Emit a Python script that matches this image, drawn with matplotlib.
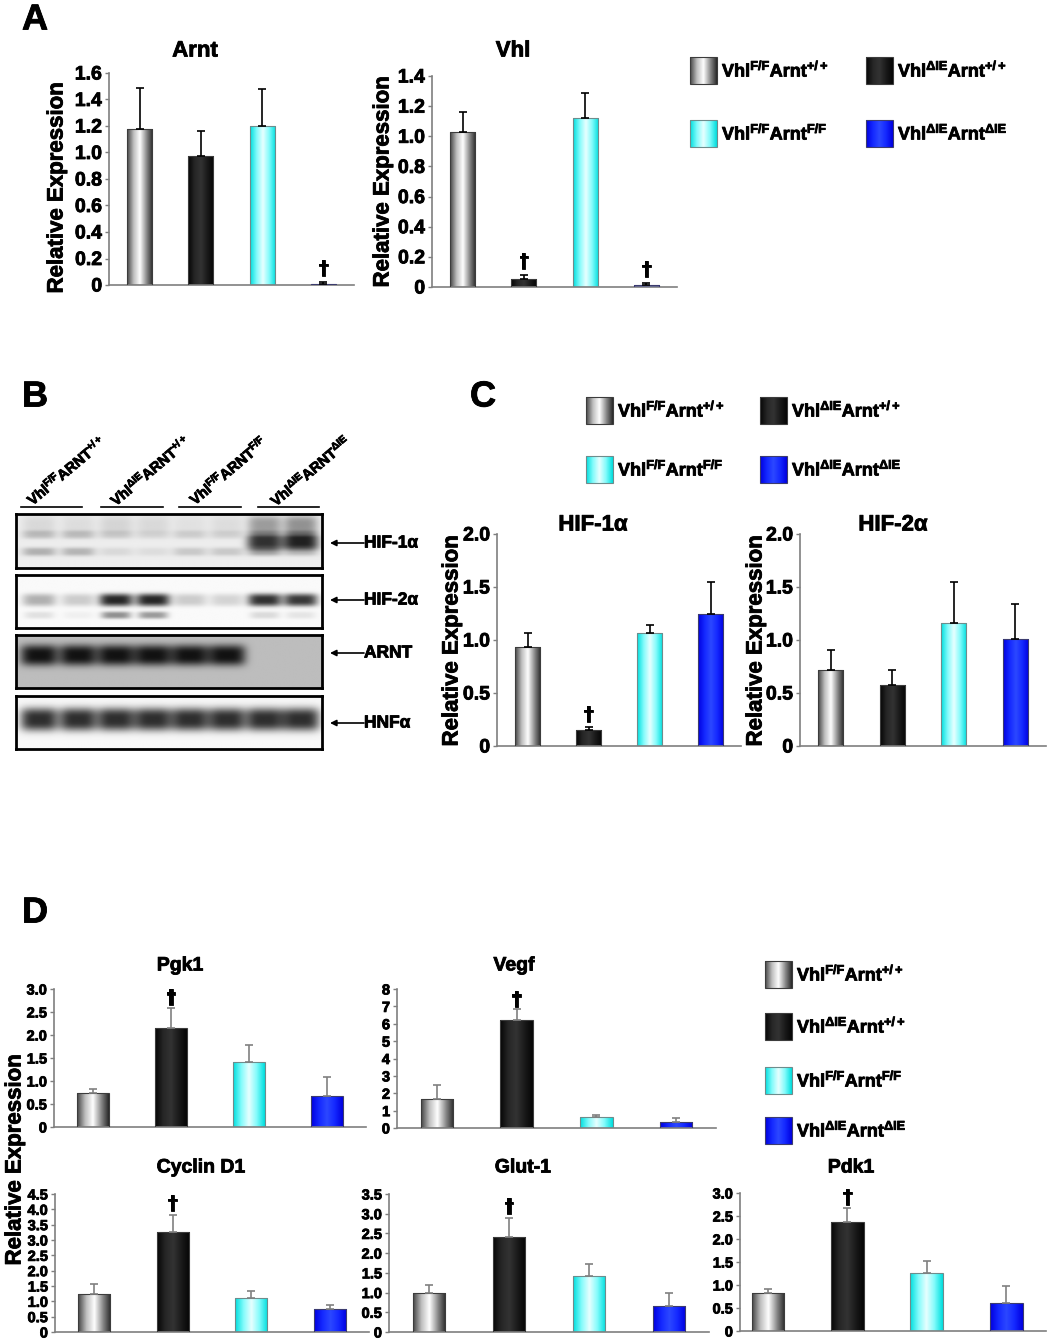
import numpy as np
import matplotlib
matplotlib.use("Agg")
import matplotlib.pyplot as plt
import matplotlib.patheffects as pe
from matplotlib.colors import LinearSegmentedColormap
from matplotlib.patches import Rectangle
from matplotlib.ticker import FuncFormatter
from matplotlib.text import Text

plt.rcParams['font.family'] = ['Liberation Sans', 'DejaVu Sans']
plt.rcParams['font.weight'] = 'bold'
plt.rcParams['mathtext.fontset'] = 'custom'
plt.rcParams['mathtext.rm'] = 'Liberation Sans:bold'
plt.rcParams['mathtext.it'] = 'Liberation Sans:bold'
plt.rcParams['mathtext.bf'] = 'Liberation Sans:bold'

# ---------- data ----------
group_labels = ['Vhl$^{F/F}$Arnt$^{+/+}$', 'Vhl$^{ΔIE}$Arnt$^{+/+}$',
                'Vhl$^{F/F}$Arnt$^{F/F}$', 'Vhl$^{ΔIE}$Arnt$^{ΔIE}$']
lane_labels = ['Vhl$^{F/F}$ARNT$^{+/+}$', 'Vhl$^{ΔIE}$ARNT$^{+/+}$',
               'Vhl$^{F/F}$ARNT$^{F/F}$', 'Vhl$^{ΔIE}$ARNT$^{ΔIE}$']

# panel A
arnt_mean = [1.18, 0.97, 1.20, 0.01]
arnt_sem = [0.31, 0.19, 0.28, 0.01]
arnt_sig = [False, False, False, True]
vhl_mean = [1.03, 0.05, 1.12, 0.01]
vhl_sem = [0.13, 0.03, 0.17, 0.015]
vhl_sig = [False, True, False, True]

# panel C
hif1a_mean = [0.93, 0.15, 1.07, 1.25]
hif1a_sem = [0.14, 0.03, 0.07, 0.30]
hif1a_sig = [False, True, False, False]
hif2a_mean = [0.72, 0.58, 1.16, 1.01]
hif2a_sem = [0.19, 0.14, 0.39, 0.33]
hif2a_sig = [False, False, False, False]

# panel D
pgk1_mean = [0.73, 2.15, 1.41, 0.67]
pgk1_sem = [0.10, 0.43, 0.38, 0.41]
vegf_mean = [1.65, 6.20, 0.62, 0.35]
vegf_sem = [0.80, 0.65, 0.13, 0.20]
cyclin_mean = [1.25, 3.25, 1.12, 0.75]
cyclin_sem = [0.32, 0.57, 0.21, 0.13]
glut1_mean = [0.98, 2.40, 1.42, 0.67]
glut1_sem = [0.20, 0.50, 0.30, 0.31]
pdk1_mean = [0.82, 2.37, 1.27, 0.60]
pdk1_sem = [0.10, 0.30, 0.25, 0.38]
d_sig = [False, True, False, False]

# panel B band intensities (8 lanes, 2 per genotype)
blot_names = ['HIF-1α', 'HIF-2α', 'ARNT', 'HNFα']
hif1a_smear = [0.10, 0.08, 0.12, 0.10, 0.06, 0.08, 0.40, 0.45]
hif1a_upper = [0.22, 0.22, 0.15, 0.10, 0.14, 0.12, 0.30, 0.35]
hif1a_main = [0.00, 0.00, 0.00, 0.00, 0.00, 0.00, 0.92, 1.00]
hif1a_lower = [0.30, 0.28, 0.10, 0.08, 0.18, 0.18, 0.35, 0.25]
hif2a_main = [0.35, 0.22, 1.00, 1.00, 0.22, 0.18, 0.95, 0.92]
hif2a_lower = [0.12, 0.05, 0.50, 0.45, 0.00, 0.00, 0.15, 0.10]
arnt_band = [1, 1, 1, 1, 1, 1, 0, 0]
hnf_band = [1, 1, 1, 1, 1, 1, 1, 1]

# ---------- layout helpers ----------
W, H = 1050, 1343
fig = plt.figure(figsize=(W / 100, H / 100), dpi=100)


def px_rect(x0, y0, x1, y1):
    return [x0 / W, 1 - y1 / H, (x1 - x0) / W, (y1 - y0) / H]


ov = fig.add_axes([0, 0, 1, 1], zorder=10)
ov.patch.set_alpha(0)
ov.axis('off')

bar_cmaps = [
    LinearSegmentedColormap.from_list('g', ['#454545', '#bdbdbd', '#ffffff', '#8f8f8f', '#2a2a2a']),
    LinearSegmentedColormap.from_list('k', ['#050505', '#262626', '#333333', '#1a1a1a', '#050505']),
    LinearSegmentedColormap.from_list('c', ['#00dede', '#80fbfb', '#e8ffff', '#80fbfb', '#00dede']),
    LinearSegmentedColormap.from_list('b', ['#0000e0', '#1428ff', '#2c48ff', '#1428ff', '#0000e0']),
]
grad = np.linspace(0, 1, 64).reshape(1, -1)
edge_cols = ['#3c3c3c', '#3c3c3c', '#6e8c8c', '#3c3c6e']


def bar_panel(rect, xlim, mean, sem, sig, ymax, step, tick_fs, err_col, dag_fs, dag_off, integer=False):
    ax = fig.add_axes(px_rect(*rect))
    x = np.arange(4)
    bars = ax.bar(x, mean, width=0.41, color='none', edgecolor=edge_cols, linewidth=0.8, zorder=3)
    for b, cm in zip(bars, bar_cmaps):
        im = ax.imshow(grad, cmap=cm, extent=[b.get_x(), b.get_x() + b.get_width(), 0, b.get_height()],
                       aspect='auto', interpolation='bilinear', zorder=2)
        im.set_clip_path(b)
    ax.errorbar(x, mean, yerr=[np.zeros(4), sem], fmt='none', ecolor=err_col,
                elinewidth=1.2, capsize=3, capthick=1.2, zorder=4)
    for xi, top, s in zip(x, np.add(mean, sem), sig):
        if s:
            ax.annotate('†', (xi, top), xytext=(0, dag_off), textcoords='offset points',
                        ha='center', va='bottom', fontsize=dag_fs, fontweight='bold',
                        family='DejaVu Sans', zorder=5)
    ax.set_xlim(*xlim)
    ax.set_ylim(0, ymax)
    ax.set_yticks(np.arange(0, ymax + step / 2, step))
    if integer:
        ax.yaxis.set_major_formatter(FuncFormatter(lambda v, p: '%d' % round(v)))
    else:
        ax.yaxis.set_major_formatter(FuncFormatter(lambda v, p: '0' if abs(v) < 1e-9 else '%.1f' % v))
    ax.tick_params(axis='y', length=3, width=1, color='#7f7f7f', labelsize=tick_fs, pad=2)
    ax.tick_params(axis='x', length=0, labelbottom=False)
    for s in ['top', 'right']:
        ax.spines[s].set_visible(False)
    for s in ['left', 'bottom']:
        ax.spines[s].set_color('#7f7f7f')
        ax.spines[s].set_linewidth(1.2)
    ax.patch.set_alpha(0)
    return ax


def legend_block(corners, fs, size=27):
    for (x0, y0), cm, ec, lab in zip(corners, bar_cmaps, edge_cols, group_labels):
        ov.imshow(grad, cmap=cm, extent=[x0, x0 + size, y0 + size, y0], aspect='auto',
                  interpolation='bilinear', zorder=2)
        ov.add_patch(Rectangle((x0, y0), size, size, fill=False, ec=ec, lw=0.8, zorder=3))
        ov.text(x0 + size + 5, y0 + size / 2, lab, fontsize=fs, ha='left', va='center')


# ---------- panel A ----------
ov.text(22, 20, 'A', fontsize=26, ha='left', va='center')
bar_panel((109, 73, 354, 285), (-0.5, 3.5), arnt_mean, arnt_sem, arnt_sig, 1.6, 0.2, 14, 'black', 14, 3)
bar_panel((432, 76, 677, 287), (-0.5, 3.5), vhl_mean, vhl_sem, vhl_sig, 1.4, 0.2, 14, 'black', 14, 3)
ov.text(195, 51, 'Arnt', fontsize=16, ha='center', va='center')
ov.text(513, 51, 'Vhl', fontsize=16, ha='center', va='center')
ov.text(57, 188, 'Relative Expression', fontsize=16, rotation=90, ha='center', va='center')
ov.text(383, 182, 'Relative Expression', fontsize=16, rotation=90, ha='center', va='center')
legend_block([(690, 57), (866, 57), (690, 120), (866, 120)], 13)

# ---------- panel B ----------
ov.text(22, 397, 'B', fontsize=26, ha='left', va='center')
lane_x = np.array([39, 78, 116, 153, 190, 227, 265, 301])
xx = np.linspace(16, 322, 400)
yy = np.linspace(0, 1, 90)
X, Y = np.meshgrid(xx, yy)


def strip_image(bg, bands, dark=0.13):
    d = np.zeros_like(X)
    for amps, yc, hw, hh in bands:
        for cx, a in zip(lane_x, amps):
            d += a * np.exp(-np.abs((X - cx) / hw) ** 4 - np.abs((Y - yc) / hh) ** 3)
    d = np.clip(d, 0, 1)
    return bg * (1 - d) + dark * d


blot_imgs = [
    strip_image(0.93, [(hif1a_smear, 0.80, 17, 0.18), (hif1a_upper, 0.62, 17, 0.08),
                       (hif1a_main, 0.47, 18, 0.13), (hif1a_lower, 0.30, 17, 0.08)]),
    strip_image(0.98, [(hif2a_main, 0.53, 17, 0.12), (hif2a_lower, 0.24, 15, 0.07)], dark=0.15),
    strip_image(0.74, [(arnt_band, 0.62, 19, 0.20)], dark=0.07),
    strip_image(0.97, [(hnf_band, 0.56, 19, 0.22)], dark=0.18),
]
blot_y = [(514, 568), (575, 628), (635, 688), (696, 749)]
arrow_y = [543, 600, 653, 723]
for img, (y0, y1), name, ay in zip(blot_imgs, blot_y, blot_names, arrow_y):
    bx = fig.add_axes(px_rect(16, y0, 322, y1))
    bx.imshow(img, cmap='gray', vmin=0, vmax=1, extent=[16, 322, 0, 1], origin='lower',
              aspect='auto', interpolation='bilinear')
    bx.set_xticks([])
    bx.set_yticks([])
    for s in bx.spines.values():
        s.set_linewidth(2)
        s.set_color('black')
    ov.annotate('', xy=(330, ay), xytext=(364, ay),
                arrowprops=dict(arrowstyle='-|>', color='black', lw=1.2, mutation_scale=9,
                                shrinkA=0, shrinkB=0))
    ov.text(364, ay, name, fontsize=12.5, ha='left', va='center')

underlines = [(21, 82), (101, 163), (179, 241), (258, 319)]
lane_label_xy = [(66, 470), (150, 470), (228, 470), (310, 470)]
for (u0, u1), (lx, ly), lab in zip(underlines, lane_label_xy, lane_labels):
    ov.plot([u0, u1], [507, 507], color='black', lw=1.2)
    ov.text(lx, ly, lab, fontsize=10.5, rotation=40, ha='center', va='center')

# ---------- panel C ----------
ov.text(470, 397, 'C', fontsize=26, ha='left', va='center')
legend_block([(586, 397), (760, 397), (586, 456), (760, 456)], 13)
bar_panel((497, 534, 741, 746), (-0.5, 3.5), hif1a_mean, hif1a_sem, hif1a_sig, 2.0, 0.5, 14, 'black', 14, 2)
bar_panel((800, 534, 1046, 746), (-0.5, 3.5), hif2a_mean, hif2a_sem, hif2a_sig, 2.0, 0.5, 14, 'black', 14, 2)
ov.text(593, 525, 'HIF-1α', fontsize=16, ha='center', va='center')
ov.text(893, 525, 'HIF-2α', fontsize=16, ha='center', va='center')
ov.text(452, 641, 'Relative Expression', fontsize=16, rotation=90, ha='center', va='center')
ov.text(756, 641, 'Relative Expression', fontsize=16, rotation=90, ha='center', va='center')

# ---------- panel D ----------
ov.text(22, 913, 'D', fontsize=26, ha='left', va='center')
bar_panel((54, 989, 366, 1127), (-0.5, 3.5), pgk1_mean, pgk1_sem, d_sig, 3.0, 0.5, 10.5, '#808080', 14, 1)
bar_panel((397, 989, 716, 1128), (-0.5, 3.5), vegf_mean, vegf_sem, d_sig, 8, 1, 10.5, '#808080', 14, 0,
          integer=True)
bar_panel((55, 1194, 369, 1332), (-0.5, 3.5), cyclin_mean, cyclin_sem, d_sig, 4.5, 0.5, 10.5, '#808080', 14, 1)
bar_panel((389, 1194, 709, 1332), (-0.5, 3.5), glut1_mean, glut1_sem, d_sig, 3.5, 0.5, 10.5, '#808080', 14, 1)
bar_panel((740, 1193, 1046, 1331), (-0.35, 3.5), pdk1_mean, pdk1_sem, d_sig, 3.0, 0.5, 10.5, '#808080', 14, 1)
ov.text(180, 966, 'Pgk1', fontsize=14, ha='center', va='center')
ov.text(514, 966, 'Vegf', fontsize=14, ha='center', va='center')
ov.text(201, 1168, 'Cyclin D1', fontsize=14, ha='center', va='center')
ov.text(523, 1168, 'Glut-1', fontsize=14, ha='center', va='center')
ov.text(851, 1168, 'Pdk1', fontsize=14, ha='center', va='center')
ov.text(15, 1160, 'Relative Expression', fontsize=16, rotation=90, ha='center', va='center')
legend_block([(765, 961), (765, 1013), (765, 1067), (765, 1117)], 13)

ov.set_xlim(0, W)
ov.set_ylim(H, 0)

# thicken all text a little, the original lettering is heavier than Liberation bold
for t in fig.findobj(Text):
    t.set_path_effects([pe.withStroke(linewidth=0.6, foreground='black')])

fig.savefig('out.png', dpi=100, facecolor='white')
